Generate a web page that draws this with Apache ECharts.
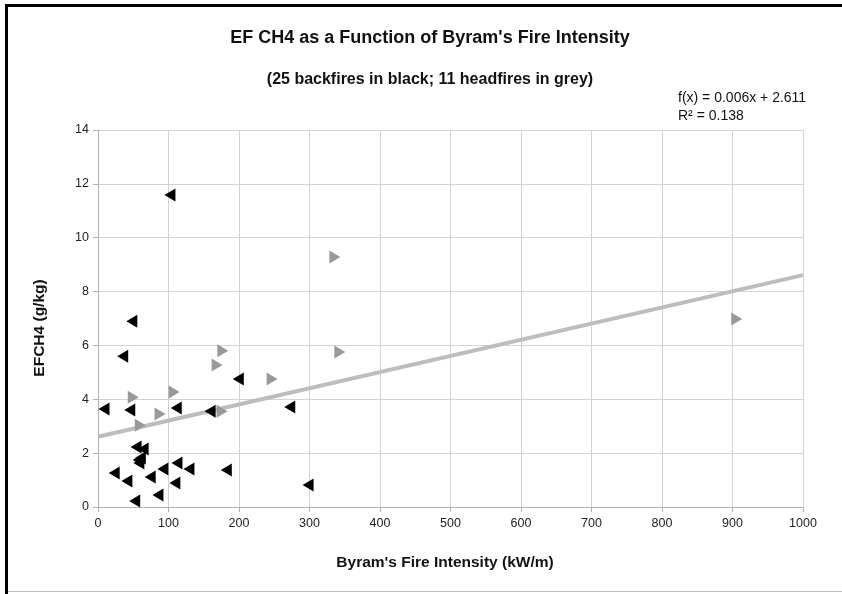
<!DOCTYPE html>
<html><head><meta charset="utf-8">
<script src="https://cdn.jsdelivr.net/npm/echarts@6/dist/echarts.min.js"></script>
<style>html,body{margin:0;padding:0;background:#fff}#c{width:842px;height:594px}</style>
</head><body><div id="c"></div>
<script>
// Backfires (black, left-pointing)
const backX = [102, 48, 35, 199, 8.5, 45, 111, 159, 272, 54, 64, 60, 58, 57, 23, 41, 74, 92, 112, 129, 109, 182, 85, 52, 298];
const backY = [11.59, 6.9, 5.6, 4.75, 3.64, 3.6, 3.68, 3.56, 3.71, 2.23, 2.15, 1.82, 1.63, 1.75, 1.26, 0.97, 1.11, 1.41, 1.63, 1.41, 0.89, 1.37, 0.45, 0.22, 0.82];
// Headfires (grey, right-pointing)
const headX = [177, 169, 247, 50, 108, 88, 176, 60, 336, 343, 906];
const headY = [5.8, 5.27, 4.75, 4.08, 4.27, 3.45, 3.56, 3.04, 9.28, 5.76, 6.98];
// Linear trend f(x) = slope*x + intercept
const slope = 0.006, intercept = 2.611;
const trendX = [0, 1000];
const xTicks = [0, 100, 200, 300, 400, 500, 600, 700, 800, 900, 1000];
const yTicks = [0, 2, 4, 6, 8, 10, 12, 14];

const zip = (a, b) => a.map((v, i) => [v, b[i]]);
const chart = echarts.init(document.getElementById('c'));
const font = 'Liberation Sans, Arial, sans-serif';
chart.setOption({
  animation: false,
  backgroundColor: '#fff',
  grid: {left: 98, right: 39, top: 130, bottom: 87},
  xAxis: {type: 'value', min: xTicks[0], max: xTicks[xTicks.length - 1], interval: xTicks[1] - xTicks[0],
    axisLine: {show: true, onZero: false, lineStyle: {color: '#b3b3b3', width: 1}},
    axisTick: {show: true, length: 5, lineStyle: {color: '#b3b3b3'}},
    splitLine: {show: true, lineStyle: {color: '#d3d3d3', width: 1}},
    axisLabel: {color: '#222', fontFamily: font, fontSize: 12.5, margin: 10, formatter: v => String(v)}},
  yAxis: {type: 'value', min: yTicks[0], max: yTicks[yTicks.length - 1], interval: yTicks[1] - yTicks[0],
    axisLine: {show: true, onZero: false, lineStyle: {color: '#b3b3b3', width: 1}},
    axisTick: {show: true, length: 5, lineStyle: {color: '#b3b3b3'}},
    splitLine: {show: true, lineStyle: {color: '#d3d3d3', width: 1}},
    axisLabel: {color: '#222', fontFamily: font, fontSize: 12.5, margin: 9, formatter: v => String(v)}},
  series: [
    {type: 'line', data: trendX.map(x => [x, slope * x + intercept]), symbol: 'none',
     lineStyle: {color: '#bdbdbd', width: 4}, z: 1, silent: true},
    {type: 'scatter', data: zip(headX, headY), symbol: 'triangle', symbolRotate: -90,
     symbolSize: [13, 11], itemStyle: {color: '#999999', opacity: 1}, z: 3},
    {type: 'scatter', data: zip(backX, backY), symbol: 'triangle', symbolRotate: 90,
     symbolSize: [13, 11], itemStyle: {color: '#000000', opacity: 1}, z: 4}
  ],
  graphic: [
    {type: 'rect', shape: {x: 5, y: 4, width: 3, height: 590}, style: {fill: '#000'}},
    {type: 'rect', shape: {x: 5, y: 4, width: 837, height: 3}, style: {fill: '#000'}},
    {type: 'rect', shape: {x: 8, y: 591, width: 834, height: 1}, style: {fill: '#bbb'}},
    {type: 'text', x: 430, y: 38, style: {text: "EF CH4 as a Function of Byram's Fire Intensity", font: 'bold 18px ' + font, fill: '#111', textAlign: 'center', textVerticalAlign: 'middle'}},
    {type: 'text', x: 430, y: 80, style: {text: '(25 backfires in black; 11 headfires in grey)', font: 'bold 16px ' + font, fill: '#111', textAlign: 'center', textVerticalAlign: 'middle'}},
    {type: 'text', x: 678, y: 98, style: {text: 'f(x) = 0.006x + 2.611', font: '14px ' + font, fill: '#111', textAlign: 'left', textVerticalAlign: 'middle'}},
    {type: 'text', x: 678, y: 116, style: {text: 'R² = 0.138', font: '14px ' + font, fill: '#111', textAlign: 'left', textVerticalAlign: 'middle'}},
    {type: 'text', x: 445, y: 563, style: {text: "Byram's Fire Intensity (kW/m)", font: 'bold 15.5px ' + font, fill: '#111', textAlign: 'center', textVerticalAlign: 'middle'}},
    {type: 'text', x: 40, y: 328, rotation: Math.PI / 2, style: {text: 'EFCH4 (g/kg)', font: 'bold 15.5px ' + font, fill: '#111', textAlign: 'center', textVerticalAlign: 'middle'}}
  ]
});
</script></body></html>
